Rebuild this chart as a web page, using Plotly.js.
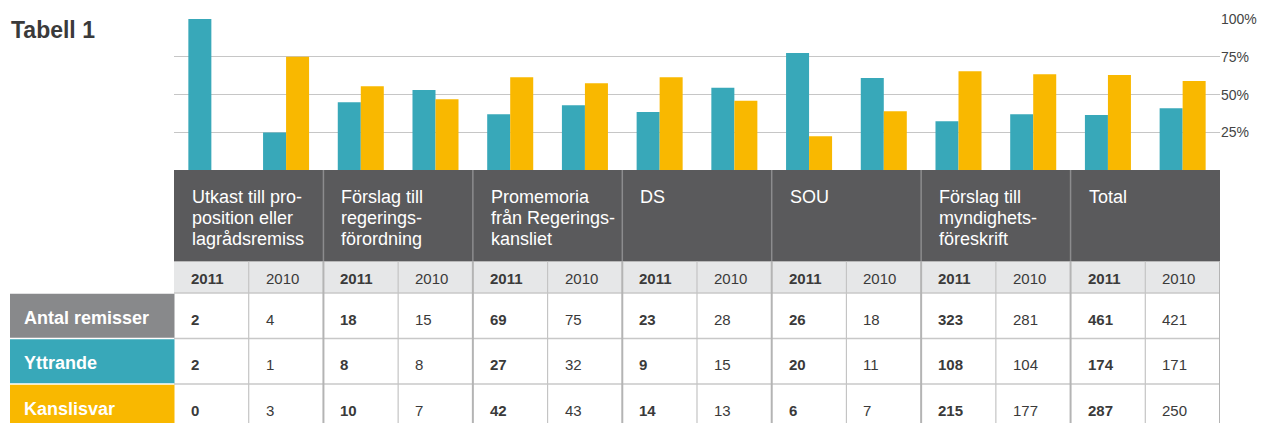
<!DOCTYPE html>
<html>
<head>
<meta charset="utf-8">
<script src="https://cdn.plot.ly/plotly-3.0.1.min.js"></script>
<style>html,body{margin:0;padding:0;background:#fff;}#chart{width:1264px;height:423px;}</style>
</head>
<body>
<div id="chart"></div>
<script>
// ---------- DATA ----------
const categoryLines = [
  ['Utkast till pro-', 'position eller', 'lagrådsremiss'],
  ['Förslag till', 'regerings-', 'förordning'],
  ['Promemoria', 'från Regerings-', 'kansliet'],
  ['DS'],
  ['SOU'],
  ['Förslag till', 'myndighets-', 'föreskrift'],
  ['Total']
];
const years = ['2011', '2010'];
const rowLabels = ['Antal remisser', 'Yttrande', 'Kanslisvar'];

const antal2011 = [2, 18, 69, 23, 26, 323, 461];
const antal2010 = [4, 15, 75, 28, 18, 281, 421];
const yttrande2011 = [2, 8, 27, 9, 20, 108, 174];
const yttrande2010 = [1, 8, 32, 15, 11, 104, 171];
const kanslisvar2011 = [0, 10, 42, 14, 6, 215, 287];
const kanslisvar2010 = [3, 7, 43, 13, 7, 177, 250];

// bar heights (percent), per column (category x year)
const yttrandePct   = [100, 25, 45, 53, 37, 43, 38.5, 54.5, 77.5, 61, 32.5, 37, 36.5, 41];
const kanslisvarPct = [0, 75, 55.5, 47, 61.5, 57.5, 61.5, 46, 22.5, 39, 65.5, 63.5, 63, 59];

const yTickVals = [25, 50, 75, 100];
const yTickText = ['25%', '50%', '75%', '100%'];

// ---------- STYLE / LAYOUT CONSTANTS ----------
const W = 1264, H = 423;
const FONT = 'Liberation Sans, Arial, Helvetica, sans-serif';
const TEAL = '#38a8b9', ORANGE = '#f9b800', HEAD = '#5a5a5c', YEARBG = '#e6e7e8', LABELGRAY = '#88898b';
const plotLeft = 174, plotRight = 1220, barTop = 19, barBottom = 170.3, tableTop = 170;

const nCols = categoryLines.length * years.length;
const colX = [];
for (let i = 0; i < nCols; i++) colX.push(i);

// table rows (y2 units = pixels below tableTop)
const rowHeader = [0, 91.5], rowYear = [91.5, 123];
const dataRows = [[123, 168.5], [168.5, 214], [214, 260]];

const tableValues = [
  [antal2011, antal2010],
  [yttrande2011, yttrande2010],
  [kanslisvar2011, kanslisvar2010]
];
const rowColors = [LABELGRAY, TEAL, ORANGE];

const traces = [
  {type: 'bar', x: colX, y: yttrandePct, marker: {color: TEAL, line: {width: 0}}, xaxis: 'x', yaxis: 'y', hoverinfo: 'skip', name: 'Yttrande'},
  {type: 'bar', x: colX, y: kanslisvarPct, marker: {color: ORANGE, line: {width: 0}}, xaxis: 'x', yaxis: 'y', hoverinfo: 'skip', name: 'Kanslisvar'},
  {type: 'scatter', x: [], y: [], xaxis: 'x', yaxis: 'y2', hoverinfo: 'skip', showlegend: false}
];

const shapes = [];
const annotations = [];

// header & year backgrounds
shapes.push({type: 'rect', xref: 'x', yref: 'y2', x0: -0.5, x1: nCols - 0.5, y0: rowHeader[0], y1: rowHeader[1], fillcolor: HEAD, line: {width: 0}});
shapes.push({type: 'rect', xref: 'x', yref: 'y2', x0: -0.5, x1: nCols - 0.5, y0: rowYear[0], y1: rowYear[1], fillcolor: YEARBG, line: {width: 0}});

// horizontal lines
[rowYear[1], dataRows[0][1], dataRows[1][1]].forEach(function (yy) {
  shapes.push({type: 'line', xref: 'x', yref: 'y2', x0: -0.5, x1: nCols - 0.5, y0: yy, y1: yy, line: {color: '#c8c8c8', width: 1.5}});
});
shapes.push({type: 'line', xref: 'x', yref: 'y2', x0: -0.5, x1: nCols - 0.5, y0: rowYear[0], y1: rowYear[0], line: {color: '#b8b8b8', width: 1}});

// vertical lines
for (let k = 1; k <= nCols; k++) {
  const xx = k - 0.5;
  const isGroup = (k % years.length === 0);
  if (isGroup && k < nCols) {
    shapes.push({type: 'line', xref: 'x', yref: 'y2', x0: xx, x1: xx, y0: rowHeader[0], y1: rowHeader[1], line: {color: '#8c8c8e', width: 1.5}});
  }
  shapes.push({type: 'line', xref: 'x', yref: 'y2', x0: xx, x1: xx, y0: rowYear[0], y1: dataRows[2][1], line: {color: isGroup ? '#b4b4b4' : '#c4c4c4', width: isGroup ? 2 : 1.2}});
}

// header text
categoryLines.forEach(function (lines, g) {
  lines.forEach(function (t, li) {
    annotations.push({xref: 'x', yref: 'y2', x: g * years.length - 0.5, y: 27 + li * 21, xanchor: 'left', yanchor: 'middle', xshift: 16, text: t, showarrow: false, font: {family: FONT, size: 18, color: '#ffffff'}});
  });
});

// year row text and data cells
for (let g = 0; g < categoryLines.length; g++) {
  years.forEach(function (yr, yi) {
    const c = g * years.length + yi;
    const bold = yi === 0;
    annotations.push({xref: 'x', yref: 'y2', x: c - 0.5, y: 108.5, xanchor: 'left', yanchor: 'middle', xshift: 15, text: bold ? '<b>' + yr + '</b>' : yr, showarrow: false, font: {family: FONT, size: 15, color: '#3a3a3a'}});
    tableValues.forEach(function (pair, r) {
      const v = String(pair[yi][g]);
      const ymid = (dataRows[r][0] + dataRows[r][1]) / 2 + 3.5;
      annotations.push({xref: 'x', yref: 'y2', x: c - 0.5, y: ymid, xanchor: 'left', yanchor: 'middle', xshift: 15, text: bold ? '<b>' + v + '</b>' : v, showarrow: false, font: {family: FONT, size: 15, color: '#3a3a3a'}});
    });
  });
}

// row labels
rowLabels.forEach(function (lab, r) {
  shapes.push({type: 'rect', xref: 'paper', yref: 'y2', x0: 10 / W, x1: 174.5 / W, y0: dataRows[r][0] + 0.8, y1: dataRows[r][1] - 0.8, fillcolor: rowColors[r], line: {width: 0}});
  const ymid = (dataRows[r][0] + dataRows[r][1]) / 2 + 2;
  annotations.push({xref: 'paper', yref: 'y2', x: 22 / W, y: ymid, xanchor: 'left', yanchor: 'middle', text: '<b>' + lab + '</b>', showarrow: false, font: {family: FONT, size: 18, color: '#ffffff'}});
});

const layout = {
  width: W, height: H,
  margin: {l: 0, r: 0, t: 0, b: 0, pad: 0},
  paper_bgcolor: '#ffffff', plot_bgcolor: 'rgba(0,0,0,0)',
  showlegend: false,
  barmode: 'group', bargap: 0.384, bargroupgap: 0,
  title: {text: '<b>Tabell 1</b>', x: 11 / W, xanchor: 'left', xref: 'container', y: 1 - 30 / H, yanchor: 'middle', yref: 'container', font: {family: FONT, size: 23, color: '#3a3a3a'}},
  xaxis: {domain: [plotLeft / W, plotRight / W], range: [-0.5, nCols - 0.5], showgrid: false, zeroline: false, showticklabels: false, ticks: '', showline: false, fixedrange: true},
  yaxis: {domain: [(H - barBottom) / H, (H - barTop) / H], range: [0, 100], side: 'right', tickvals: yTickVals, ticktext: yTickText, showgrid: true, gridcolor: '#c6c6c6', gridwidth: 1.2, zeroline: false, showline: false, ticks: '', tickfont: {family: FONT, size: 14, color: '#444444'}, automargin: false, fixedrange: true},
  yaxis2: {domain: [0, (H - tableTop) / H], range: [H - tableTop, 0], anchor: 'x', visible: false, showgrid: false, zeroline: false, fixedrange: true},
  shapes: shapes,
  annotations: annotations
};

Plotly.newPlot('chart', traces, layout, {displayModeBar: false, staticPlot: true});
</script>
</body>
</html>
